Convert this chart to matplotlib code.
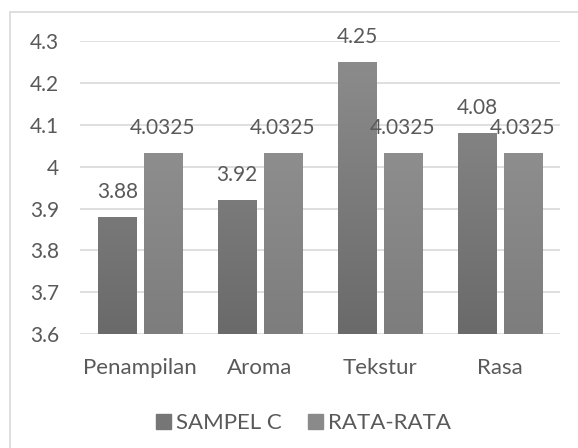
import matplotlib
matplotlib.use("Agg")
import matplotlib.pyplot as plt
import numpy as np
from matplotlib.colors import LinearSegmentedColormap
from matplotlib.patches import Rectangle, Patch

# Данные диаграммы
categories = ["Penampilan", "Aroma", "Tekstur", "Rasa"]
sampel_c = [3.88, 3.92, 4.25, 4.08]
rata_rata = [4.0325, 4.0325, 4.0325, 4.0325]
series_names = ["SAMPEL C", "RATA-RATA"]

plt.rcParams["font.family"] = ["Lato", "DejaVu Sans"]
text_color = "#595959"

fig = plt.figure(figsize=(5.78, 4.48), dpi=100)
ax = fig.add_axes([80 / 578, 1 - 334 / 448, 480 / 578, 292.5 / 448])

# рамка вокруг диаграммы (правый и нижний края за пределами картинки)
fig.patches.append(Rectangle((10 / 578, -0.05), 1.0, 1.05 - 12 / 448,
                             transform=fig.transFigure, fill=False,
                             edgecolor="#d9d9d9", linewidth=1.2))

x = np.arange(len(categories))
width = 0.32
offset = 0.19

ymin, ymax = 3.6, 4.3

# градиентная заливка столбцов
cmaps = [
    LinearSegmentedColormap.from_list("c1", ["#6a6a6a", "#8e8e8e"]),
    LinearSegmentedColormap.from_list("c2", ["#7d7d7d", "#989898"]),
]
grad = np.linspace(0, 1, 256).reshape(-1, 1)

for i, (vals, sign) in enumerate([(sampel_c, -1), (rata_rata, 1)]):
    bars = ax.bar(x + sign * offset, [v - ymin for v in vals], width,
                  bottom=ymin, color="none", zorder=2)
    for bar, v in zip(bars, vals):
        im = ax.imshow(grad, cmap=cmaps[i], aspect="auto", origin="lower",
                       extent=[bar.get_x(), bar.get_x() + bar.get_width(), ymin, ymax],
                       zorder=2)
        im.set_clip_path(bar)
        ax.annotate(f"{v:g}", (bar.get_x() + bar.get_width() / 2, v),
                    xytext=(0, 18), textcoords="offset points",
                    ha="center", va="center", fontsize=15, color=text_color)

ax.set_xlim(-0.5, len(categories) - 0.5)
ax.set_ylim(ymin, ymax)
ax.set_yticks(np.arange(3.6, 4.31, 0.1))
ax.set_yticklabels(["3.6", "3.7", "3.8", "3.9", "4", "4.1", "4.2", "4.3"])
ax.set_xticks(x)
ax.set_xticklabels(categories)
ax.tick_params(length=0, labelcolor=text_color)
ax.tick_params(axis="x", pad=17, labelsize=16)
ax.tick_params(axis="y", pad=15, labelsize=15)
ax.grid(axis="y", color="#d9d9d9", linewidth=1.2)
ax.set_axisbelow(True)
for s in ax.spines.values():
    s.set_visible(False)

handles = [Patch(color="#767676"), Patch(color="#8a8a8a")]
fig.legend(handles, series_names, loc="center", bbox_to_anchor=(303.5 / 578, 1 - 423 / 448),
           ncol=2, frameon=False, fontsize=16, labelcolor=text_color,
           handlelength=0.68, handleheight=0.68, handletextpad=0.25, columnspacing=1.15)

fig.savefig("out.png", dpi=100)
